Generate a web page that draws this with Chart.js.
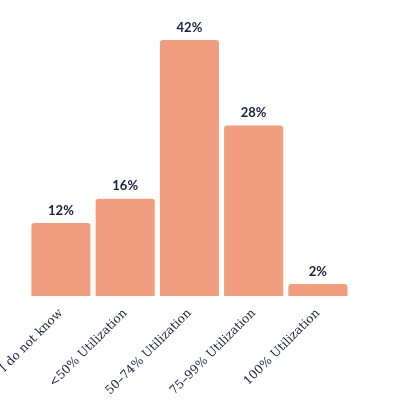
<!DOCTYPE html>
<html><head><style>html,body{margin:0;background:#fff}#w{width:400px;height:400px}</style>
<script src="https://cdn.jsdelivr.net/npm/chart.js@4"></script></head>
<body><div id="w"><canvas id="c"></canvas></div>
<script>
const categories=["I do not know","<50% Utilization","50–74% Utilization","75–99% Utilization","100% Utilization"];
const values=[12,16,42,28,2];
const navy="#1c2140";
const labelPlugin={id:'lbl',afterDatasetsDraw(ch){const ctx=ch.ctx;ctx.save();ctx.fillStyle=navy;ctx.font="bold 13px Lato";ctx.textAlign="center";ctx.textBaseline="bottom";
ch.getDatasetMeta(0).data.forEach((b,i)=>ctx.fillText(values[i]+"%",b.x,b.y-6));ctx.restore();}};
new Chart(document.getElementById('c'),{type:'bar',
data:{labels:categories,datasets:[{data:values,backgroundColor:"#f09e7f",borderRadius:3,borderSkipped:'bottom',categoryPercentage:1,barPercentage:0.92}]},
options:{responsive:true,maintainAspectRatio:false,animation:false,
layout:{padding:{top:40,left:0,right:50,bottom:0}},
plugins:{legend:{display:false},tooltip:{enabled:false}},
scales:{x:{grid:{display:false},border:{display:false},ticks:{color:navy,font:{family:"DejaVu Serif",size:12},maxRotation:45,minRotation:45,padding:2}},
y:{min:0,max:42,display:false}}},plugins:[labelPlugin]});
</script></body></html>
